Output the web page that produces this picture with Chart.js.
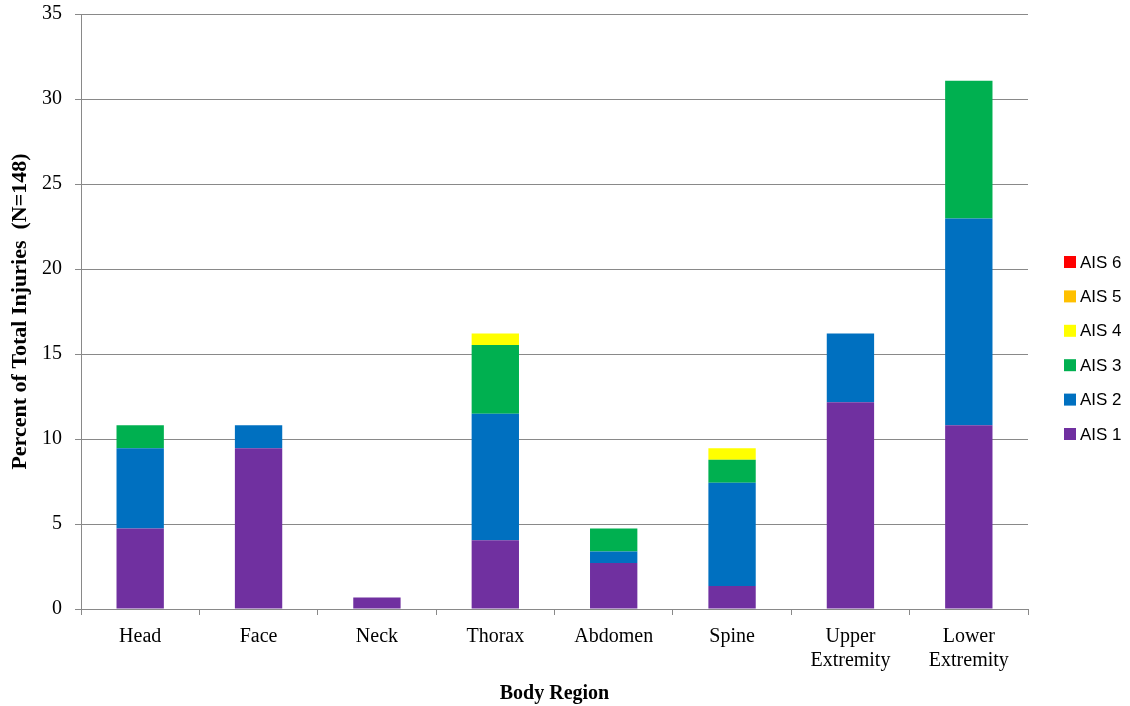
<!DOCTYPE html>
<html>
<head>
<meta charset="utf-8">
<script src="https://cdn.jsdelivr.net/npm/chart.js@4.4.0/dist/chart.umd.min.js"></script>
<style>
  html, body { margin: 0; padding: 0; background: #fff; }
  #wrap { width: 1130px; height: 706px; }
</style>
</head>
<body>
<div id="wrap"><canvas id="canvas" width="1130" height="706"></canvas></div>
<script>
var regions = ['Head', 'Face', 'Neck', 'Thorax', 'Abdomen', 'Spine', ['Upper', 'Extremity'], ['Lower', 'Extremity']];
var ais1 = [4.73, 9.46, 0.68, 4.05, 2.70, 1.35, 12.16, 10.81];
var ais2 = [4.73, 1.35, 0, 7.43, 0.68, 6.08, 4.05, 12.16];
var ais3 = [1.35, 0, 0, 4.05, 1.35, 1.35, 0, 8.11];
var ais4 = [0, 0, 0, 0.68, 0, 0.68, 0, 0];
var ais5 = [0, 0, 0, 0, 0, 0, 0, 0];
var ais6 = [0, 0, 0, 0, 0, 0, 0, 0];
var yTicks = [0, 5, 10, 15, 20, 25, 30, 35];

var colors = {
    ais1: '#7030A0',
    ais2: '#0070C0',
    ais3: '#00B050',
    ais4: '#FFFF00',
    ais5: '#FFC000',
    ais6: '#FF0000'
};

var serif = '"Liberation Serif", "Times New Roman", serif';

function ds(label, data, col) {
    return {
        label: label,
        data: data,
        backgroundColor: col,
        borderWidth: 0,
        barPercentage: 1,
        categoryPercentage: 0.4
    };
}

// legend drawn by hand so it sits where the original one does
var sideLegend = {
    id: 'sideLegend',
    afterDraw: function (chart) {
        var ctx = chart.ctx;
        var sets = chart.data.datasets;
        ctx.save();
        ctx.font = '17px "Liberation Sans", Arial, sans-serif';
        ctx.textBaseline = 'middle';
        for (var i = 0; i < sets.length; i++) {
            var y = 434 - i * 34.4;
            ctx.fillStyle = sets[i].backgroundColor;
            ctx.fillRect(1064, y - 6, 12, 12);
            ctx.fillStyle = '#000';
            ctx.fillText(sets[i].label, 1080, y + 1);
        }
        ctx.restore();
    }
};

window.onload = function () {
    var ctx = document.getElementById('canvas').getContext('2d');
    window.myBar = new Chart(ctx, {
        type: 'bar',
        data: {
            labels: regions,
            datasets: [
                ds('AIS 1', ais1, colors.ais1),
                ds('AIS 2', ais2, colors.ais2),
                ds('AIS 3', ais3, colors.ais3),
                ds('AIS 4', ais4, colors.ais4),
                ds('AIS 5', ais5, colors.ais5),
                ds('AIS 6', ais6, colors.ais6)
            ]
        },
        plugins: [sideLegend],
        options: {
            responsive: false,
            animation: false,
            layout: { padding: { left: 0, right: 102, top: 14, bottom: 0 } },
            plugins: {
                legend: { display: false },
                tooltip: { enabled: false }
            },
            scales: {
                x: {
                    stacked: true,
                    offset: true,
                    grid: {
                        offset: true,
                        drawOnChartArea: false,
                        color: '#898989',
                        tickLength: 6
                    },
                    border: { color: '#898989', width: 1 },
                    ticks: {
                        color: '#000',
                        font: { family: serif, size: 20 },
                        padding: 10,
                        maxRotation: 0,
                        autoSkip: false
                    },
                    title: {
                        display: true,
                        text: 'Body Region',
                        color: '#000',
                        font: { family: serif, size: 20, weight: 'bold' },
                        padding: { top: 6, bottom: 0 }
                    },
                    afterFit: function (scale) { scale.height = 97; }
                },
                y: {
                    stacked: true,
                    min: 0,
                    max: 35,
                    afterBuildTicks: function (scale) {
                        scale.ticks = yTicks.map(function (v) { return { value: v }; });
                    },
                    grid: {
                        color: '#898989',
                        tickLength: 6
                    },
                    border: { color: '#898989', width: 1 },
                    ticks: {
                        color: '#000',
                        font: { family: serif, size: 20 },
                        padding: 13
                    },
                    title: {
                        display: true,
                        text: 'Percent of Total Injuries  (N=148)',
                        color: '#000',
                        font: { family: serif, size: 22, weight: 'bold' },
                        padding: { top: 7, bottom: 0 }
                    },
                    afterFit: function (scale) {
                        scale.width = 81;
                        scale.paddingTop = 0;
                        scale.paddingBottom = 0;
                    }
                }
            }
        }
    });
};
</script>
</body>
</html>
